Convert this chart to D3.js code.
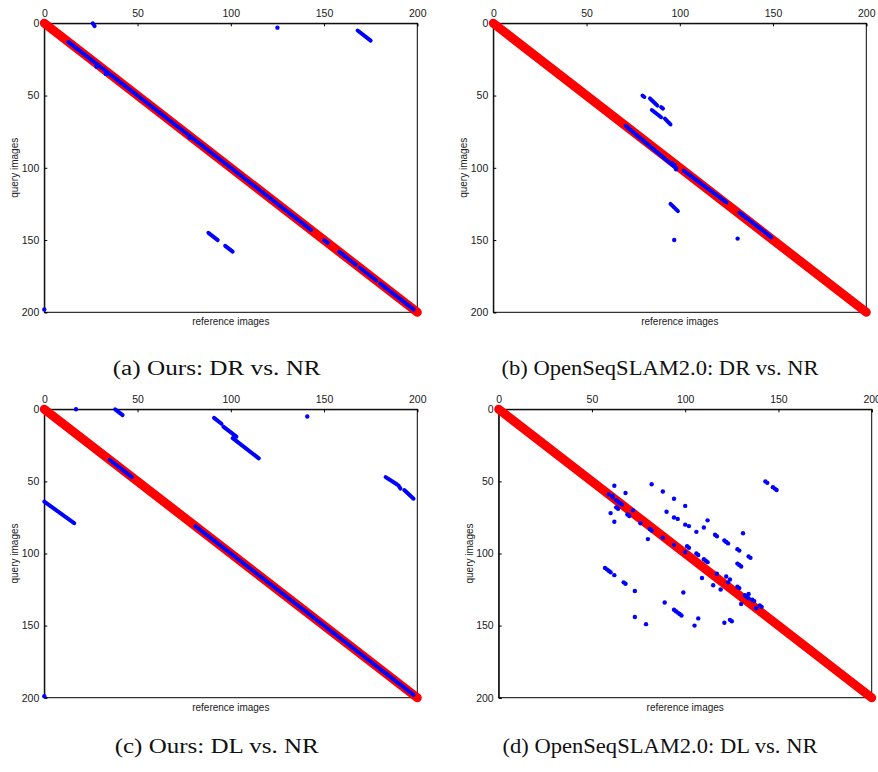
<!DOCTYPE html>
<html>
<head>
<meta charset="utf-8">
<script src="https://cdn.jsdelivr.net/npm/d3@7"></script>
<style>
  html, body { margin: 0; padding: 0; background: #fff; }
  svg { display: block; }
</style>
</head>
<body>
<div id="chart"></div>
<script>
// ---------------- data ----------------
const xDomain = [0, 200];
const yDomain = [0, 200];
const xTicks = [0, 50, 100, 150, 200];
const yTicks = [0, 50, 100, 150, 200];
const xLabel = "reference images";
const yLabel = "query images";
const captions = [
  "(a) Ours: DR vs. NR",
  "(b) OpenSeqSLAM2.0: DR vs. NR",
  "(c) Ours: DL vs. NR",
  "(d) OpenSeqSLAM2.0: DL vs. NR"
];

// ground-truth correspondence (reference index, query index)
const groundTruth = [[0, 0], [200, 200]];

// matched runs: [refStart, queryStart, refEnd, queryEnd]
const oursDRSegments = [
  [26, 0, 27, 2], [168, 5, 175, 12], [88, 145, 93, 150], [97, 154, 101, 158],
  [13, 13, 143, 143], [150, 150, 152, 152], [158, 158, 165, 165],
  [166, 166, 167, 167], [169, 169, 178, 178], [180, 180, 198, 198]
];
const oursDRPoints = [[125, 3], [0, 198], [13, 13], [28, 30], [33, 35], [62, 62], [78, 79]];

const seqDRSegments = [
  [80, 50, 81, 51], [84, 52, 88, 57], [90, 58, 91, 59], [85, 60, 90, 65],
  [92, 66, 95, 70], [71, 71, 96, 98], [102, 102, 125, 124], [95, 125, 99, 130],
  [132, 131, 149, 148]
];
const seqDRPoints = [[97, 150], [131, 149], [96, 97], [97, 98], [97, 99], [98, 100], [98, 101]];

const oursDLSegments = [
  [38, 0, 42, 4], [91, 6, 95, 10], [96, 12, 103, 19], [101, 20, 115, 34],
  [183, 47, 189, 52], [190, 53, 191, 55], [193, 56, 198, 62], [0, 64, 16, 79],
  [35, 35, 47, 47], [81, 81, 198, 198]
];
const oursDLPoints = [[17, 0], [141, 5], [0, 199], [155, 155], [184, 184]];

const seqDLSegments = [];
const seqDLPoints = [
  [62, 53], [82, 52], [88, 57], [68, 58], [59, 59], [61, 60], [61, 61], [63, 63],
  [64, 64], [65, 65], [66, 66], [63, 68], [64, 69], [94, 62], [100, 67], [60, 72],
  [72, 70], [69, 73], [70, 74], [90, 71], [94, 75], [96, 76], [62, 78], [76, 79],
  [100, 80], [102, 81], [112, 77], [110, 82], [81, 83], [82, 84], [106, 85],
  [116, 87], [117, 88], [121, 91], [122, 92], [123, 93], [80, 90], [88, 89],
  [94, 94], [101, 95], [102, 96], [100, 99], [106, 100], [107, 101], [110, 104],
  [111, 105], [112, 106], [131, 86], [128, 97], [129, 98], [134, 102], [135, 103],
  [128, 107], [129, 108], [130, 109], [117, 114], [109, 117], [122, 116], [124, 118],
  [123, 120], [115, 122], [119, 125], [128, 123], [129, 124], [132, 129], [134, 128],
  [133, 130], [134, 131], [136, 132], [137, 133], [130, 135], [138, 138], [140, 136],
  [141, 137], [57, 110], [58, 111], [59, 112], [60, 113], [62, 115], [67, 120],
  [68, 121], [73, 126], [99, 127], [89, 134], [94, 139], [95, 140], [96, 141],
  [97, 142], [98, 143], [73, 144], [79, 149], [107, 145], [105, 150], [121, 148],
  [124, 146], [125, 147], [143, 50], [144, 51], [147, 54], [148, 55], [149, 56]
];

// ---------------- layout ----------------
const W = 878, H = 772;
const panels = [
  { box: [44.3, 23.3, 417.3, 312.3], capX: 216.7, capY: 375, capW: 208, caption: captions[0], segs: oursDRSegments, pts: oursDRPoints },
  { box: [493.3, 23.3, 866.3, 312.3], capX: 660, capY: 375, capW: 317, caption: captions[1], segs: seqDRSegments, pts: seqDRPoints },
  { box: [44.3, 409.3, 417.3, 697.7], capX: 216.7, capY: 753, capW: 204, caption: captions[2], segs: oursDLSegments, pts: oursDLPoints },
  { box: [498.7, 409.3, 871.7, 697.7], capX: 660, capY: 753, capW: 315, caption: captions[3], segs: seqDLSegments, pts: seqDLPoints }
];

const svg = d3.select("#chart").append("svg")
  .attr("width", W).attr("height", H)
  .attr("viewBox", `0 0 ${W} ${H}`);

const tickFont = "'Liberation Sans', Arial, sans-serif";

panels.forEach(p => {
  const [x0, y0, x1, y1] = p.box;
  const x = d3.scaleLinear().domain(xDomain).range([x0, x1]);
  const y = d3.scaleLinear().domain(yDomain).range([y0, y1]);
  const g = svg.append("g");

  // box
  g.append("rect")
    .attr("x", x0).attr("y", y0)
    .attr("width", x1 - x0).attr("height", y1 - y0)
    .attr("fill", "none").attr("stroke", "#000").attr("stroke-width", 1);

  // top axis
  const xAxis = d3.axisTop(x).tickValues(xTicks).tickSize(-3).tickPadding(6).tickFormat(d3.format("d"));
  const gx = g.append("g").attr("transform", `translate(0,${y0})`).call(xAxis);
  // left axis
  const yAxis = d3.axisLeft(y).tickValues(yTicks).tickSize(-3).tickPadding(5).tickFormat(d3.format("d"));
  const gy = g.append("g").attr("transform", `translate(${x0},0)`).call(yAxis);
  [gx, gy].forEach(a => {
    a.select(".domain").attr("stroke", "#000");
    a.selectAll(".tick line").attr("stroke", "#000");
    a.selectAll(".tick text")
      .attr("fill", "#1a1a1a")
      .style("font-family", tickFont)
      .style("font-size", "10.5px");
  });

  // axis labels
  g.append("text")
    .attr("x", (x0 + x1) / 2).attr("y", y1 + 13)
    .attr("text-anchor", "middle")
    .style("font-family", tickFont).style("font-size", "10px")
    .attr("fill", "#1a1a1a")
    .text(xLabel);
  g.append("text")
    .attr("transform", `translate(${x0 - 26},${(y0 + y1) / 2}) rotate(-90)`)
    .attr("text-anchor", "middle")
    .style("font-family", tickFont).style("font-size", "10px")
    .attr("fill", "#1a1a1a")
    .text(yLabel);

  // ground truth
  const line = d3.line().x(d => x(d[0])).y(d => y(d[1]));
  g.append("path")
    .datum(groundTruth)
    .attr("d", line)
    .attr("fill", "none")
    .attr("stroke", "#ff0000")
    .attr("stroke-width", 9)
    .attr("stroke-linecap", "round");

  // matched runs
  g.selectAll("line.seg").data(p.segs).enter().append("line")
    .attr("class", "seg")
    .attr("x1", d => x(d[0])).attr("y1", d => y(d[1]))
    .attr("x2", d => x(d[2])).attr("y2", d => y(d[3]))
    .attr("stroke", "#0000ff")
    .attr("stroke-width", 4)
    .attr("stroke-linecap", "round");

  // isolated matches
  g.selectAll("circle.pt").data(p.pts).enter().append("circle")
    .attr("class", "pt")
    .attr("cx", d => x(d[0])).attr("cy", d => y(d[1]))
    .attr("r", 2.2)
    .attr("fill", "#0000ff");

  // caption
  svg.append("text")
    .attr("x", p.capX).attr("y", p.capY)
    .attr("text-anchor", "middle")
    .attr("textLength", p.capW)
    .attr("lengthAdjust", "spacingAndGlyphs")
    .style("font-family", "'Liberation Serif', 'Times New Roman', serif")
    .style("font-size", "20.5px")
    .attr("fill", "#111")
    .text(p.caption);
});
</script>
</body>
</html>
